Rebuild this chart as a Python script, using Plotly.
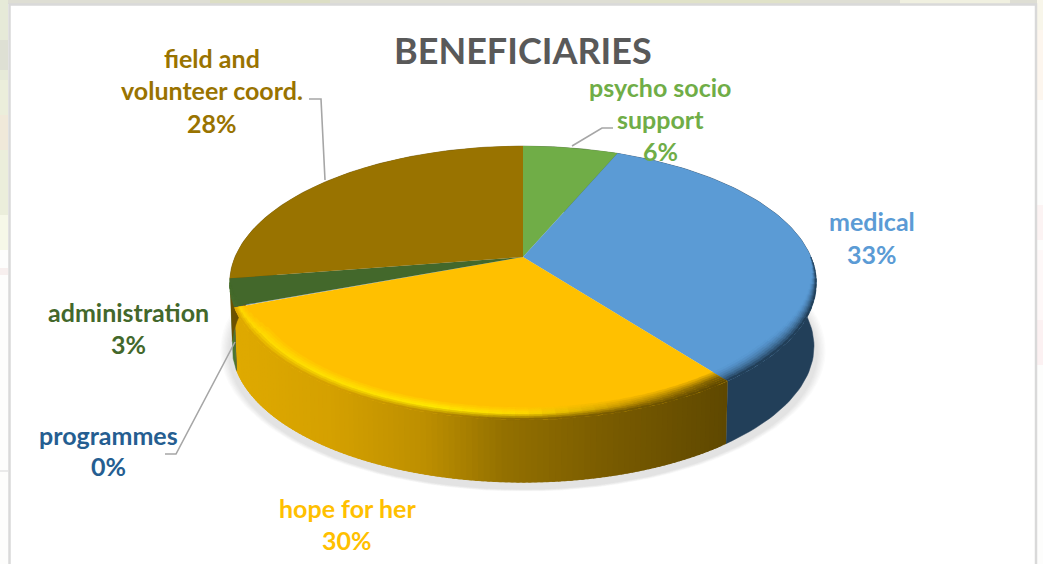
import math
import plotly.graph_objects as go

# ---- data (clockwise from 12 o'clock) ----
categories = ["psycho socio support", "medical", "hope for her", "programmes", "administration", "field and volunteer coord."]
shares = [6.3, 33.4, 29.5, 0.1, 3.2, 27.5]
percent_labels = ["6%", "33%", "30%", "0%", "3%", "28%"]
top_colors = ["#70AD47", "#5B9BD5", "#FFC000", "#255E91", "#43682B", "#997300"]
side_colors = ["#43682B", "#223F59", "#997300", "#16385A", "#4C7530", "#6B5100"]
title_text = "BENEFICIARIES"

# ---- projection of the tilted pie ----
CX, CY = 523.0, 257.0
BX, AY = 288.0, 132.0
K = 0.19
DEPTH = 63.5
FONT = "Lato"


def project(frac, r=1.0, drop=0.0, scale=1.0):
    a = 2 * math.pi * frac
    u, v = r * math.sin(a), r * math.cos(a)
    w = 1 + K * v
    return CX + scale * BX * u / w, CY + drop - scale * AY * v / w


def hexrgb(c):
    return tuple(int(c[i:i + 2], 16) for i in (1, 3, 5))


def mix(c1, c2, t):
    t = max(0.0, min(1.0, t))
    a, b = hexrgb(c1), hexrgb(c2)
    return "#%02x%02x%02x" % tuple(round(a[i] + (b[i] - a[i]) * t) for i in range(3))


def ramp(x, stops):
    if x <= stops[0][0]:
        return stops[0][1]
    for (x0, c0), (x1, c1) in zip(stops, stops[1:]):
        if x <= x1:
            return mix(c0, c1, (x - x0) / (x1 - x0))
    return stops[-1][1]


SIDE_RAMP = [(233, "#DFAA00"), (330, "#D4A000"), (420, "#BD8F00"), (500, "#937000"), (600, "#7A5C00"), (724, "#5F4800")]
GLOW_RAMP = [(233, "#FFD800"), (430, "#FFEA00"), (520, "#FFDA00"), (620, "#C89800"), (724, "#7A5C00")]

fig = go.Figure()


def poly(xs, ys, color, opacity=1.0, lw=1.2):
    fig.add_trace(go.Scatter(
        x=xs, y=ys, mode="lines", fill="toself", fillcolor=color, opacity=opacity,
        line=dict(color=color, width=lw), hoverinfo="skip", showlegend=False))


edges = [0.0]
for s in shares:
    edges.append(edges[-1] + s / sum(shares))


def arc(f0, f1, r=1.0, drop=0.0, scale=1.0, n=None):
    n = n or max(2, int((f1 - f0) * 240))
    pts = [project(f0 + (f1 - f0) * i / n, r, drop, scale) for i in range(n + 1)]
    return [p[0] for p in pts], [p[1] for p in pts]


# soft drop shadow
for i in range(7):
    xs, ys = arc(0, 1, 1.0, DEPTH + 3 + i * 0.4, 1.0 + (7 - i) * 0.0045, 120)
    poly(xs, ys, "#808080", opacity=0.035, lw=0)

# side wall
BOTTOM_SCALE = 0.992
for idx, (f0, f1) in enumerate(zip(edges, edges[1:])):
    if idx == 2:
        n = 110
        for j in range(n):
            a0 = f0 + (f1 - f0) * j / n
            a1 = f0 + (f1 - f0) * (j + 2.5) / n  # overlap next strip
            a1 = min(a1, f1)
            x0, y0 = arc(a0, a1, n=3)
            x1, y1 = arc(a0, a1, 1.0, DEPTH, BOTTOM_SCALE, 3)
            poly(x0 + x1[::-1], y0 + y1[::-1], ramp(sum(x0) / len(x0), SIDE_RAMP), lw=0.5)
    else:
        x0, y0 = arc(f0, f1, n=80)
        x1, y1 = arc(f0, f1, 1.0, DEPTH, BOTTOM_SCALE, 80)
        poly(x0 + x1[::-1], y0 + y1[::-1], side_colors[idx], lw=0.5)

# top faces
for idx, (f0, f1) in enumerate(zip(edges, edges[1:])):
    xs, ys = arc(f0, f1)
    poly([CX] + xs + [CX], [CY] + ys + [CY], top_colors[idx], lw=0)


def bevel_width(f):
    """Rim bevel width (radius units): tapers away toward the back of the pie."""
    if f <= 0.25:
        return 0.0
    if f < 0.36:
        return 0.062 * (f - 0.25) / 0.11
    if f <= 0.66:
        return 0.062
    if f < 0.72:
        return 0.062 * (0.72 - f) / 0.06
    return 0.0


BAND_T = [0.0, 0.14, 0.28, 0.42, 0.56, 0.70, 0.85, 1.0]
for idx in (1, 2, 4):
    f0, f1 = max(edges[idx], 0.25), min(edges[idx + 1], 0.72)
    if f1 <= f0:
        continue
    n = max(2, int((f1 - f0) * 160))
    for j in range(n):
        a0 = f0 + (f1 - f0) * j / n
        a1 = min(f1, f0 + (f1 - f0) * (j + 1.6) / n)
        wid = bevel_width((a0 + a1) / 2)
        if wid <= 0:
            continue
        for b, (t0, t1) in enumerate(zip(BAND_T, BAND_T[1:])):
            r0, r1 = 1 - wid * (1 - t0), 1 - wid * (1 - t1)
            x0, y0 = arc(a0, a1, r0, n=3)
            x1, y1 = arc(a0, a1, r1, n=3)
            t = t1
            if idx == 2:
                mid = sum(x1) / len(x1)
                glow = ramp(mid, GLOW_RAMP)
                side = ramp(mid, SIDE_RAMP)
                col = mix(top_colors[2], glow, t / 0.55) if t < 0.55 else mix(glow, side, (t - 0.55) / 0.45)
            elif idx == 1:
                col = mix(top_colors[1], side_colors[1], t ** 1.7)
            else:
                col = mix(top_colors[idx], side_colors[idx], t * 0.4)
            poly(x0 + x1[::-1], y0 + y1[::-1], col, lw=0.3)

# leader lines
LEADER = "#A6A6A6"
for lx, ly in [((309, 321, 325), (99, 99, 180)),
               ((613, 602, 572), (128, 128, 146)),
               ((165, 176, 235), (454, 454, 342))]:
    fig.add_trace(go.Scatter(x=list(lx), y=list(ly), mode="lines",
                             line=dict(color=LEADER, width=1.6), hoverinfo="skip", showlegend=False))


def rect(x0, x1, y0, y1, color):
    return dict(type="rect", xref="x", yref="y", x0=x0, x1=x1, y0=y0, y1=y1, layer="below",
                line_width=0, fillcolor=color)


# faded photo backdrop behind the white panel
shapes = [
    rect(0, 1043, 0, 564, "#FDFDFC"),
    rect(0, 1043, 0, 4, "#DEDED4"),
    rect(210, 330, 0, 4, "#DCDEC4"),
    rect(630, 800, 0, 4, "#E0E2C8"),
    rect(900, 1010, 0, 4, "#F0F0E0"),
    rect(0, 8, 0, 80, "#E6EAD8"),
    rect(0, 8, 40, 70, "#DEE0D4"),
    rect(0, 8, 80, 215, "#EBEEDB"),
    rect(0, 8, 115, 150, "#F0E9D9"),
    rect(0, 8, 215, 250, "#F6F8E8"),
    rect(0, 8, 268, 275, "#F7EFEE"),
    rect(0, 8, 470, 472, "#EAEAEA"),
    rect(1037, 1043, 0, 30, "#F8F6EA"),
    rect(1037, 1043, 30, 100, "#FDF6EE"),
    rect(1037, 1043, 205, 240, "#FCF3F3"),
    rect(1037, 1043, 250, 320, "#FEF8F8"),
    rect(1037, 1043, 320, 365, "#FCF1F2"),
    dict(type="rect", xref="x", yref="y", x0=9.5, x1=1036, y0=4.5, y1=575, layer="below",
         line=dict(color="#D9D9D9", width=2.5), fillcolor="#FFFFFF"),
]

# text labels, one annotation per line to keep the original leading
LINE_LAYOUT = [
    (["psycho socio", "support", percent_labels[0]], 660, [88, 120, 152], top_colors[0]),
    (["medical", percent_labels[1]], 872, [222, 255], top_colors[1]),
    (["hope for her", percent_labels[2]], 347, [509, 541], top_colors[2]),
    (["programmes", percent_labels[3]], 108, [436, 467], top_colors[3]),
    (["administration", percent_labels[4]], 128, [313, 345], top_colors[4]),
    (["field and", "volunteer coord.", percent_labels[5]], 212, [59, 91, 124], top_colors[5]),
]
annotations = []
for lines, x, ys, col in LINE_LAYOUT:
    for line, y in zip(lines, ys):
        annotations.append(dict(x=x, y=y - 1, xref="x", yref="y", text="<b>%s</b>" % line, showarrow=False,
                                xanchor="center", yanchor="middle",
                                font=dict(family=FONT, size=25, color=col)))
annotations.append(dict(x=523, y=50, xref="x", yref="y", text="<b>%s</b>" % title_text, showarrow=False,
                        xanchor="center", yanchor="middle", font=dict(family=FONT, size=36, color="#595959")))

fig.update_layout(
    width=1043, height=564, margin=dict(l=0, r=0, t=0, b=0),
    paper_bgcolor="#FFFFFF", plot_bgcolor="#FFFFFF", showlegend=False,
    xaxis=dict(range=[0, 1043], visible=False, fixedrange=True),
    yaxis=dict(range=[564, 0], visible=False, fixedrange=True),
    shapes=shapes, annotations=annotations, hovermode=False,
)
fig.write_html("out.html", config=dict(displayModeBar=False),
               post_script="document.body.style.margin='0';document.body.style.overflow='hidden';")
